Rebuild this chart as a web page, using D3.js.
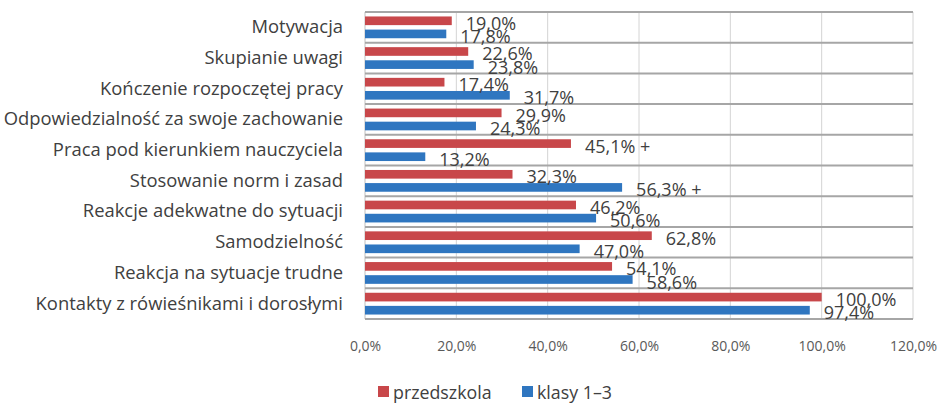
<!DOCTYPE html>
<html>
<head>
<meta charset="utf-8">
<script src="https://cdn.jsdelivr.net/npm/d3@7"></script>
<style>
  body { margin: 0; background: #fff; }
  svg { display: block; font-family: "Open Sans", Lato, sans-serif; }
</style>
</head>
<body>
<svg id="chart" width="939" height="409"></svg>
<script>
const categories = [
  'Motywacja',
  'Skupianie uwagi',
  'Kończenie rozpoczętej pracy',
  'Odpowiedzialność za swoje zachowanie',
  'Praca pod kierunkiem nauczyciela',
  'Stosowanie norm i zasad',
  'Reakcje adekwatne do sytuacji',
  'Samodzielność',
  'Reakcja na sytuacje trudne',
  'Kontakty z rówieśnikami i dorosłymi'
];
const seriesNames = ['przedszkola', 'klasy 1–3'];
const przedszkola = [0.190, 0.226, 0.174, 0.299, 0.451, 0.323, 0.462, 0.628, 0.541, 1.000];
const klasy = [0.178, 0.238, 0.317, 0.243, 0.132, 0.563, 0.506, 0.470, 0.586, 0.974];
// significance marks appended to a few labels
const przedszkolaMarks = ['', '', '', '', ' +', '', '', '', '', ''];
const klasyMarks = ['', '', '', '', '', ' +', '', '', '', ''];
const xTicks = [0, 0.2, 0.4, 0.6, 0.8, 1.0, 1.2];
const colors = ['#c8474a', '#2f76c0'];

const pl = d3.formatLocale({decimal: ',', thousands: ' ', grouping: [3], currency: ['', ' zł']});
const pct = pl.format('.1%');

const svg = d3.select('#chart');
const x = d3.scaleLinear().domain([0, 1.2]).range([365, 913]);
const y = d3.scaleBand().domain(categories).range([12, 319]);
const sub = d3.scaleBand().domain(seriesNames).range([0, y.bandwidth()])
  .paddingInner(0.34).paddingOuter(0.34);

const rows = categories.map((c, i) => ({
  cat: c,
  vals: [
    {s: seriesNames[0], v: przedszkola[i], mark: przedszkolaMarks[i]},
    {s: seriesNames[1], v: klasy[i], mark: klasyMarks[i]}
  ]
}));

// vertical gridlines
svg.append('g')
  .selectAll('line')
  .data(xTicks)
  .join('line')
    .attr('x1', d => x(d)).attr('x2', d => x(d))
    .attr('y1', y.range()[0]).attr('y2', y.range()[1])
    .attr('stroke', d => d === 0 ? '#bfbfbf' : '#d4d4d4')
    .attr('stroke-width', 1);

// row separators
const edges = categories.map(c => y(c)).concat([y.range()[1]]);
svg.append('g')
  .selectAll('line')
  .data(edges)
  .join('line')
    .attr('x1', x(0)).attr('x2', x(1.2))
    .attr('y1', d => d).attr('y2', d => d)
    .attr('stroke', '#a6a6a6')
    .attr('stroke-width', 2);

// bars
const rowG = svg.append('g')
  .selectAll('g')
  .data(rows)
  .join('g')
    .attr('transform', d => `translate(0,${y(d.cat)})`);

rowG.selectAll('rect')
  .data(d => d.vals)
  .join('rect')
    .attr('x', x(0))
    .attr('y', d => sub(d.s))
    .attr('width', d => x(d.v) - x(0))
    .attr('height', sub.bandwidth())
    .attr('fill', (d, i) => colors[i]);

rowG.selectAll('text')
  .data(d => d.vals)
  .join('text')
    .attr('x', d => x(d.v) + 14)
    .attr('y', d => sub(d.s) + sub.bandwidth() / 2 + 2)
    .attr('dominant-baseline', 'central')
    .attr('font-size', 18)
    .attr('fill', '#404040')
    .text(d => pct(d.v) + d.mark);

// category axis
const yAxis = svg.append('g')
  .attr('transform', `translate(${x(0)},0)`)
  .call(d3.axisLeft(y).tickSize(0).tickPadding(22));
yAxis.select('.domain').remove();
yAxis.selectAll('text')
  .attr('font-size', 18.4)
  .attr('font-family', '"Open Sans", Lato, sans-serif')
  .attr('fill', '#404040');

// value axis
const xAxis = svg.append('g')
  .attr('transform', `translate(0,${y.range()[1]})`)
  .call(d3.axisBottom(x).tickValues(xTicks).tickFormat(pct).tickSize(0).tickPadding(22));
xAxis.select('.domain').remove();
xAxis.selectAll('text')
  .attr('font-size', 14)
  .attr('font-family', '"Open Sans", Lato, sans-serif')
  .attr('fill', '#595959');

// legend
const legend = svg.append('g')
  .selectAll('g')
  .data(seriesNames)
  .join('g')
    .attr('transform', (d, i) => `translate(${[378, 522][i]},392)`);
legend.append('rect')
  .attr('x', 0).attr('y', -6)
  .attr('width', 11).attr('height', 11)
  .attr('fill', (d, i) => colors[i]);
legend.append('text')
  .attr('x', 15).attr('y', 0)
  .attr('dominant-baseline', 'central')
  .attr('font-size', 17.8)
  .attr('fill', '#404040')
  .text(d => d);
</script>
</body>
</html>
